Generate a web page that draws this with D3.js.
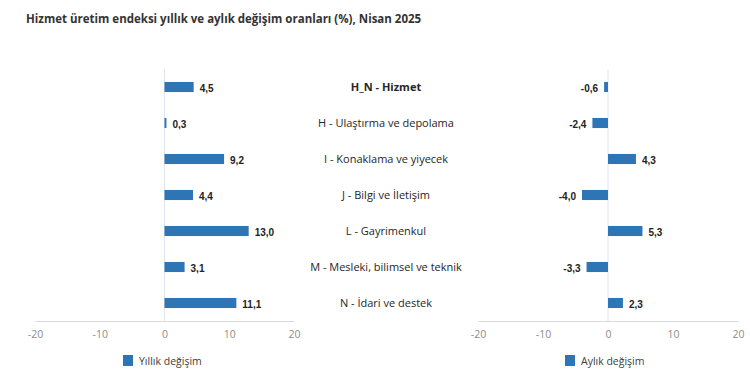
<!DOCTYPE html>
<html>
<head>
<meta charset="utf-8">
<script src="https://cdn.jsdelivr.net/npm/d3@7"></script>
<style>
  body { margin: 0; background: #fff; }
  text { font-family: "Open Sans", "Noto Sans", sans-serif; }
</style>
</head>
<body>
<svg id="chart" width="750" height="387"></svg>
<script>
const categories = [
  "H_N - Hizmet",
  "H - Ulaştırma ve depolama",
  "I - Konaklama ve yiyecek",
  "J - Bilgi ve İletişim",
  "L - Gayrimenkul",
  "M - Mesleki, bilimsel ve teknik",
  "N - İdari ve destek"
];
const yillik = [4.5, 0.3, 9.2, 4.4, 13.0, 3.1, 11.1];
const aylik = [-0.6, -2.4, 4.3, -4.0, 5.3, -3.3, 2.3];
const xTicks = [-20, -10, 0, 10, 20];
const seriesNames = ["Yıllık değişim", "Aylık değişim"];

const svg = d3.select("#chart");
const barColor = "#2e75b6";
const plotTop = 69, plotBottom = 321;

svg.append("text")
  .attr("x", 26).attr("y", 23)
  .attr("font-size", 11.5).attr("font-weight", "bold").attr("fill", "#333")
  .text("Hizmet üretim endeksi yıllık ve aylık değişim oranları (%), Nisan 2025");

const y = d3.scaleBand()
  .domain(categories)
  .range([plotTop, plotBottom])
  .paddingInner(0.72).paddingOuter(0.36);

const fmt = v => v.toFixed(1).replace(".", ",");

function panel(values, x0, x1, name, legendX) {
  const x = d3.scaleLinear().domain([-20, 20]).range([x0, x1]);
  const g = svg.append("g");

  // zero line
  g.append("line")
    .attr("x1", x(0)).attr("x2", x(0))
    .attr("y1", plotTop).attr("y2", plotBottom)
    .attr("stroke", "#dde6ef").attr("stroke-width", 1);

  // axis
  const ax = g.append("g")
    .attr("transform", `translate(0,${plotBottom})`)
    .call(d3.axisBottom(x).tickValues(xTicks).tickFormat(d => String(d))
      .tickSize(0).tickPadding(10));
  ax.select(".domain").attr("stroke", "#d9d9d9");
  ax.selectAll("text").attr("fill", "#8c8c8c").attr("font-size", 10.5)
    .style("font-family", "'Open Sans', sans-serif");

  g.selectAll("rect.bar")
    .data(values)
    .enter().append("rect")
    .attr("class", "bar")
    .attr("x", d => x(Math.min(0, d)))
    .attr("width", d => Math.abs(x(d) - x(0)))
    .attr("y", (d, i) => y(categories[i]))
    .attr("height", y.bandwidth())
    .attr("fill", barColor);

  g.selectAll("text.val")
    .data(values)
    .enter().append("text")
    .attr("class", "val")
    .attr("x", d => d >= 0 ? x(d) + 6 : x(d) - 6)
    .attr("y", (d, i) => y(categories[i]) + y.bandwidth() / 2 + 5)
    .attr("text-anchor", d => d >= 0 ? "start" : "end")
    .attr("font-size", 10).attr("font-weight", "bold").attr("fill", "#222")
    .style("font-family", "'Liberation Sans', Arial, sans-serif")
    .text(fmt);

  // legend
  svg.append("rect")
    .attr("x", legendX).attr("y", 355).attr("width", 10).attr("height", 11)
    .attr("fill", barColor);
  svg.append("text")
    .attr("x", legendX + 16).attr("y", 365)
    .attr("font-size", 10.5).attr("fill", "#404040")
    .text(name);
}

panel(yillik, 35, 294, seriesNames[0], 123);
panel(aylik, 478, 738, seriesNames[1], 565);

svg.selectAll("text.cat")
  .data(categories)
  .enter().append("text")
  .attr("class", "cat")
  .attr("x", 386)
  .attr("y", d => y(d) + y.bandwidth() / 2 + 4)
  .attr("text-anchor", "middle")
  .attr("font-size", 11)
  .attr("font-weight", (d, i) => i === 0 ? "bold" : "normal")
  .attr("fill", "#262626")
  .text(d => d);
</script>
</body>
</html>
